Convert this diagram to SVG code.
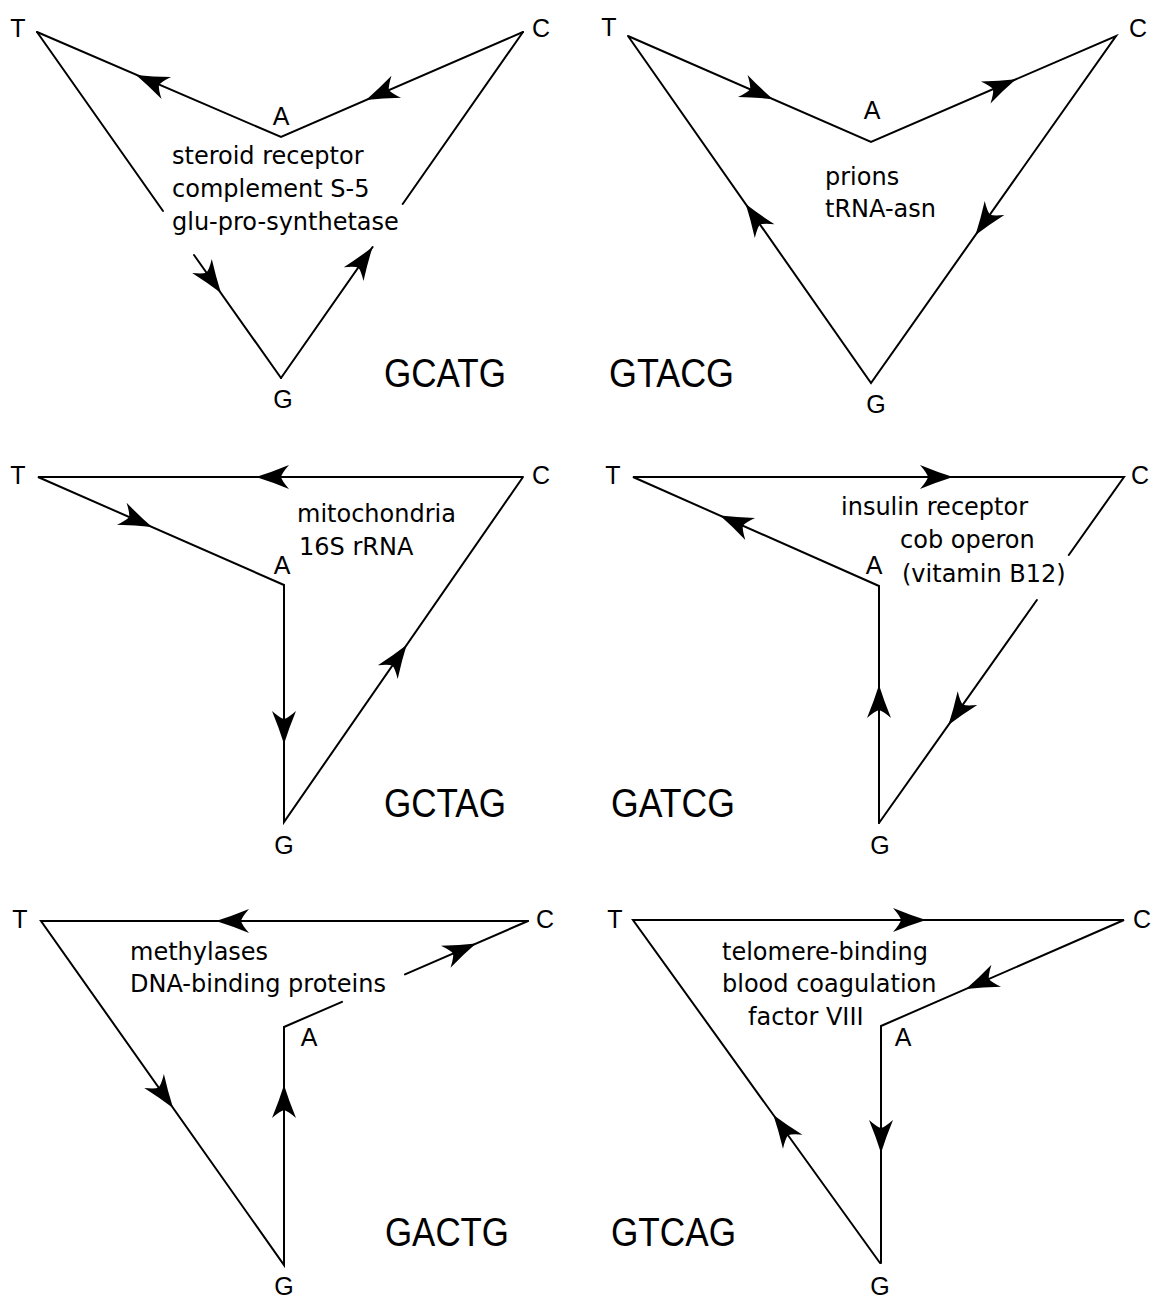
<svg xmlns="http://www.w3.org/2000/svg" xmlns:xlink="http://www.w3.org/1999/xlink" width="1156" height="1298" viewBox="0 0 1156 1298">
<style>
.ln{stroke:#000;stroke-width:2;fill:none;stroke-linecap:round}
.v{font-family:"Liberation Sans",Arial,sans-serif;font-size:25px;text-anchor:middle;fill:#000}
.d{font-family:"DejaVu Sans","Liberation Sans",sans-serif;font-size:24px;fill:#000}
.big{font-family:"Liberation Sans",Arial,sans-serif;font-size:41px;fill:#000}
</style>
<defs>
<path id="ah" d="M0,0 Q-16,-5 -33,-12 Q-26,-4 -25,0 Q-26,4 -33,12 Q-16,5 0,0Z" fill="#000"/>
</defs>
<rect width="1156" height="1298" fill="#fff"/>

<!-- Panel 1 GCATG -->
<g id="p1">
<g id="p1-connectors">
<polyline class="ln" points="37,32 281,137 523,32"/>
<line class="ln" x1="37" y1="32" x2="163" y2="211"/>
<line class="ln" x1="194" y1="255" x2="281" y2="378"/>
<line class="ln" x1="281" y1="378" x2="372.6" y2="247"/>
<line class="ln" x1="402.7" y1="204" x2="523" y2="32"/>
<use href="#ah" transform="translate(366,100) rotate(156.5)"/>
<use href="#ah" transform="translate(136,75) rotate(-156.7)"/>
<use href="#ah" transform="translate(221,293) rotate(54.8)"/>
<use href="#ah" transform="translate(372.6,247) rotate(-55)"/>
</g>
<g id="p1-T"><text class="v" x="18" y="37">T</text></g>
<g id="p1-C"><text class="v" x="541" y="37">C</text></g>
<g id="p1-A"><text class="v" x="281" y="125">A</text></g>
<g id="p1-G"><text class="v" x="283" y="408">G</text></g>
<g id="p1-desc">
<text class="d" x="172" y="164">steroid receptor</text>
<text class="d" x="172" y="197">complement S-5</text>
<text class="d" x="172" y="230">glu-pro-synthetase</text>
</g>
<g id="p1-label"><text class="big" x="384" y="387" textLength="122" lengthAdjust="spacingAndGlyphs">GCATG</text></g>
</g>

<!-- Panel 2 GTACG -->
<g id="p2">
<g id="p2-connectors">
<polyline class="ln" points="628,36 871,142 1116,36 871,383 628,36"/>
<use href="#ah" transform="translate(773,99.2) rotate(23.6)"/>
<use href="#ah" transform="translate(1016,79.3) rotate(-23.4)"/>
<use href="#ah" transform="translate(975.5,235) rotate(125.2)"/>
<use href="#ah" transform="translate(745.7,204) rotate(-125)"/>
</g>
<g id="p2-T"><text class="v" x="609" y="36">T</text></g>
<g id="p2-C"><text class="v" x="1138" y="37">C</text></g>
<g id="p2-A"><text class="v" x="872" y="119">A</text></g>
<g id="p2-G"><text class="v" x="876" y="413">G</text></g>
<g id="p2-desc">
<text class="d" x="825" y="185">prions</text>
<text class="d" x="825" y="217">tRNA-asn</text>
</g>
<g id="p2-label"><text class="big" x="609" y="387" textLength="125" lengthAdjust="spacingAndGlyphs">GTACG</text></g>
</g>

<!-- Panel 3 GCTAG -->
<g id="p3">
<g id="p3-connectors">
<polyline class="ln" points="523,477 38,477 284,585 284,822 523,477"/>
<use href="#ah" transform="translate(256,477) rotate(180)"/>
<use href="#ah" transform="translate(152,527) rotate(23.7)"/>
<use href="#ah" transform="translate(284,744) rotate(90)"/>
<use href="#ah" transform="translate(406.6,645) rotate(-55.3)"/>
</g>
<g id="p3-T"><text class="v" x="18" y="484">T</text></g>
<g id="p3-C"><text class="v" x="541" y="484">C</text></g>
<g id="p3-A"><text class="v" x="282" y="574">A</text></g>
<g id="p3-G"><text class="v" x="284" y="854">G</text></g>
<g id="p3-desc">
<text class="d" x="297" y="522">mitochondria</text>
<text class="d" x="299" y="555">16S rRNA</text>
</g>
<g id="p3-label"><text class="big" x="384" y="817" textLength="122" lengthAdjust="spacingAndGlyphs">GCTAG</text></g>
</g>

<!-- Panel 4 GATCG -->
<g id="p4">
<g id="p4-connectors">
<polyline class="ln" points="879,823 879,586 633,477 1124,477 1068.8,555"/>
<line class="ln" x1="1036.9" y1="600" x2="879" y2="823"/>
<use href="#ah" transform="translate(953,477) rotate(0)"/>
<use href="#ah" transform="translate(720,515.6) rotate(-156.1)"/>
<use href="#ah" transform="translate(948.4,725) rotate(125.3)"/>
<use href="#ah" transform="translate(879,685) rotate(-90)"/>
</g>
<g id="p4-T"><text class="v" x="613" y="484">T</text></g>
<g id="p4-C"><text class="v" x="1140" y="484">C</text></g>
<g id="p4-A"><text class="v" x="874" y="574">A</text></g>
<g id="p4-G"><text class="v" x="880" y="854">G</text></g>
<g id="p4-desc">
<text class="d" x="841" y="515">insulin receptor</text>
<text class="d" x="900" y="548">cob operon</text>
<text class="d" x="902" y="582">(vitamin B12)</text>
</g>
<g id="p4-label"><text class="big" x="611" y="817" textLength="124" lengthAdjust="spacingAndGlyphs">GATCG</text></g>
</g>

<!-- Panel 5 GACTG -->
<g id="p5">
<g id="p5-connectors">
<polyline class="ln" points="528,921 41,921 284,1265 284,1027 342,1001.8"/>
<line class="ln" x1="405" y1="974.4" x2="528" y2="921"/>
<use href="#ah" transform="translate(216,921) rotate(180)"/>
<use href="#ah" transform="translate(173.1,1108) rotate(54.8)"/>
<use href="#ah" transform="translate(284,1085) rotate(-90)"/>
<use href="#ah" transform="translate(476,943.6) rotate(-23.5)"/>
</g>
<g id="p5-T"><text class="v" x="20" y="928">T</text></g>
<g id="p5-C"><text class="v" x="545" y="928">C</text></g>
<g id="p5-A"><text class="v" x="309" y="1046">A</text></g>
<g id="p5-G"><text class="v" x="284" y="1295">G</text></g>
<g id="p5-desc">
<text class="d" x="130" y="960">methylases</text>
<text class="d" x="130" y="992">DNA-binding proteins</text>
</g>
<g id="p5-label"><text class="big" x="385" y="1246" textLength="124" lengthAdjust="spacingAndGlyphs">GACTG</text></g>
</g>

<!-- Panel 6 GTCAG -->
<g id="p6">
<g id="p6-connectors">
<polyline class="ln" points="880,1263 633,920 1124,920 881,1026 881,1263"/>
<use href="#ah" transform="translate(926,920) rotate(0)"/>
<use href="#ah" transform="translate(966,988.9) rotate(156.4)"/>
<use href="#ah" transform="translate(881,1153) rotate(90)"/>
<use href="#ah" transform="translate(773.4,1115) rotate(-125.8)"/>
</g>
<g id="p6-T"><text class="v" x="615" y="928">T</text></g>
<g id="p6-C"><text class="v" x="1142" y="928">C</text></g>
<g id="p6-A"><text class="v" x="903" y="1046">A</text></g>
<g id="p6-G"><text class="v" x="880" y="1295">G</text></g>
<g id="p6-desc">
<text class="d" x="722" y="960">telomere-binding</text>
<text class="d" x="722" y="992">blood coagulation</text>
<text class="d" x="748" y="1025">factor VIII</text>
</g>
<g id="p6-label"><text class="big" x="611" y="1246" textLength="125" lengthAdjust="spacingAndGlyphs">GTCAG</text></g>
</g>
</svg>
